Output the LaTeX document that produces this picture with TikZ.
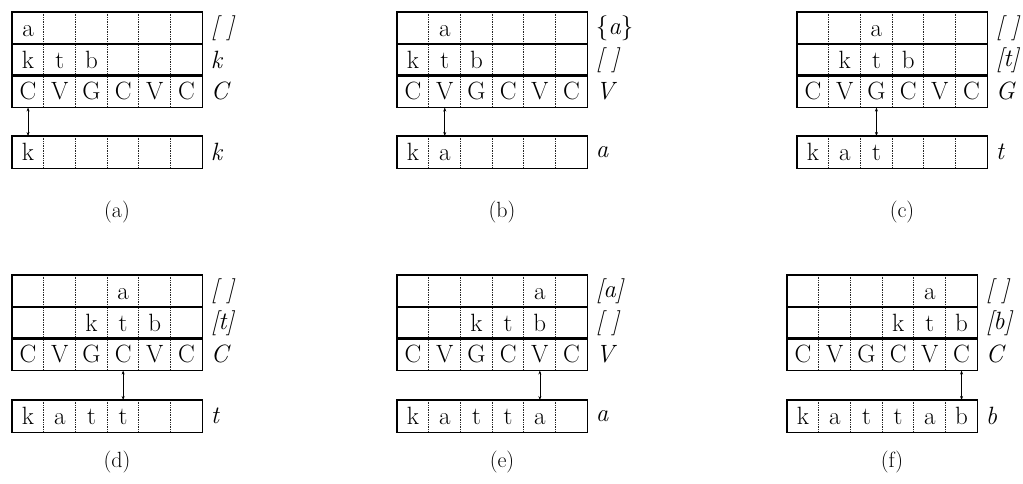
\documentclass[tikz,border=0pt]{standalone}
\usepackage{fontspec}
\usetikzlibrary{arrows.meta,positioning}
\tikzset{
  cell/.style={minimum width=31.7pt, minimum height=31.7pt, inner sep=0pt, anchor=north west,
    font=\fontsize{25}{30}\selectfont, text height=17pt, text depth=0pt},
  sep/.style={line width=0.7pt, densely dotted, black!85},
  frame/.style={line width=1.2pt},
  bar/.style={line width=2.2pt},
  link/.style={line width=0.7pt, {Stealth[length=4pt,width=3pt]}-{Stealth[length=4pt,width=3pt]}},
  lab/.style={anchor=west, inner sep=1pt, font=\fontsize{25}{30}\selectfont\itshape},
  subcap/.style={font=\fontsize{22}{26}\selectfont},
}
\newcommand\cellrow[4]{%
  \foreach \t [count=\i] in {#4} {
    \node[cell] (#1-\i) at ({#2+(\i-1)*31.7},#3) {\t};
  }
  \foreach \i in {2,...,6} \draw[sep] (#1-\i.north west) -- (#1-\i.south west);
}
% #1 name, #2 x, #3 ytop, #4 row1, #5 row2, #6 output row, #7 arrow column, #8 output y
\newcommand\panel[8]{%
  \cellrow{#1r1}{#2}{#3}{#4}
  \cellrow{#1r2}{#2}{#3+31.7}{#5}
  \cellrow{#1r3}{#2}{#3+63.4}{C,V,G,C,V,C}
  \cellrow{#1o}{#2}{#8}{#6}
  \draw[frame] (#1r1-1.north west) rectangle (#1r3-6.south east);
  \draw[bar] (#1r2-1.north west) -- (#1r2-6.north east);
  \draw[bar] (#1r3-1.north west) -- (#1r3-6.north east);
  \draw[frame] (#1o-1.north west) rectangle (#1o-6.south east);
  \draw[link] (#1r3-#7.south) -- (#1o-#7.north);
}
\newcommand\panellabels[5]{%
  \node[lab, right=7pt of #1r1-6] (#1l1) {#2};
  \node[lab, right=7pt of #1r2-6] (#1l2) {#3};
  \node[lab, right=7pt of #1r3-6] (#1l3) {#4};
  \node[lab, right=7pt of #1o-6] (#1l4) {#5};
}
\newcommand\emp{[\,\,]}
\begin{document}
\begin{tikzpicture}[x=1pt,y=-1pt]
  \fill[white] (0,0) rectangle (1023,483);
  \useasboundingbox (0,0) rectangle (1023,483);
  % (a)
  \panel{a}{12}{12}{a,{},{},{},{},{}}{k,t,b,{},{},{}}{k,{},{},{},{},{}}{1}{136}
  \panellabels{a}{\emp}{k}{C}{k}
  \node[subcap] (acap) at (117,212) {(a)};
  % (b)
  \panel{b}{397}{12}{{},a,{},{},{},{}}{k,t,b,{},{},{}}{k,a,{},{},{},{}}{2}{136}
  \panellabels{b}{\upshape\{\itshape a\upshape\}}{\emp}{V}{a}
  \node[subcap] (bcap) at (502,212) {(b)};
  % (c)
  \panel{c}{797}{12}{{},{},a,{},{},{}}{{},k,t,b,{},{}}{k,a,t,{},{},{}}{3}{136}
  \panellabels{c}{\emp}{[t]}{G}{t}
  \node[subcap] (ccap) at (902,212) {(c)};
  % (d)
  \panel{d}{12}{275}{{},{},{},a,{},{}}{{},{},k,t,b,{}}{k,a,t,t,{},{}}{4}{400}
  \panellabels{d}{\emp}{[t]}{C}{t}
  \node[subcap] (dcap) at (117,462) {(d)};
  % (e)
  \panel{e}{397}{275}{{},{},{},{},a,{}}{{},{},k,t,b,{}}{k,a,t,t,a,{}}{5}{400}
  \panellabels{e}{[a]}{\emp}{V}{a}
  \node[subcap] (ecap) at (502,462) {(e)};
  % (f)
  \panel{f}{787}{275}{{},{},{},{},a,{}}{{},{},{},k,t,b}{k,a,t,t,a,b}{6}{400}
  \panellabels{f}{\emp}{[b]}{C}{b}
  \node[subcap] (fcap) at (892,462) {(f)};
\end{tikzpicture}
\end{document}
